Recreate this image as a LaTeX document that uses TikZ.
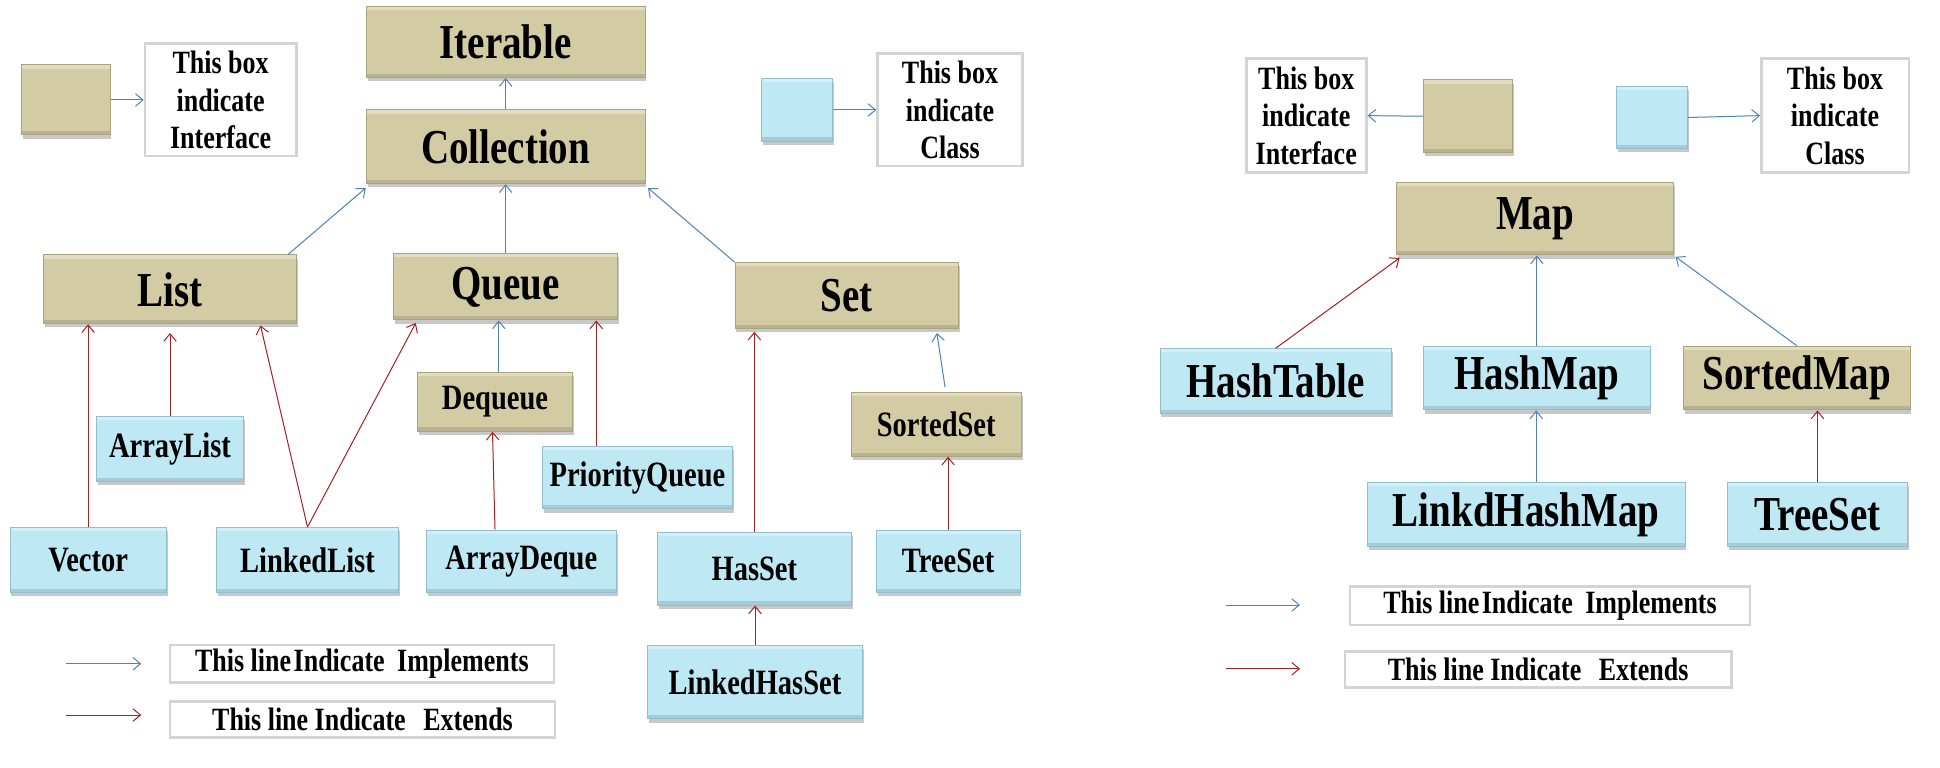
\documentclass[tikz,border=0pt]{standalone}
\usepackage{fontspec}
\setmainfont{Liberation Serif}[FakeStretch=0.8]
\usetikzlibrary{arrows.meta,shadows,calc}
\definecolor{tanfill}{RGB}{210,203,164}
\definecolor{tanedge}{RGB}{170,163,125}
\definecolor{clsfill}{RGB}{190,232,244}
\definecolor{clsedge}{RGB}{145,190,208}
\definecolor{implc}{RGB}{79,129,189}
\definecolor{extc}{RGB}{168,32,32}
\definecolor{legedge}{RGB}{212,212,212}
\tikzset{
  basebox/.style={rectangle, inner sep=0pt, align=center, line width=0.8pt,
    drop shadow={shadow xshift=1pt, shadow yshift=-3pt, opacity=0.3, fill=black!70},
    path picture={
      \fill[white,opacity=0.35] (path picture bounding box.north west) rectangle ([yshift=-3pt]path picture bounding box.north east);
      \fill[black,opacity=0.12] (path picture bounding box.south west) rectangle ([yshift=3pt]path picture bounding box.south east);
    }},
  ifacebox/.style={basebox, fill=tanfill, draw=tanedge},
  classbox/.style={basebox, fill=clsfill, draw=clsedge},
  bigtxt/.style={font=\bfseries\fontsize{39}{42}\selectfont},
  smalltxt/.style={font=\bfseries\fontsize{28.5}{31}\selectfont},
  legbox/.style={rectangle, draw=legedge, line width=2pt, fill=white, inner sep=0pt, align=center,
    font=\bfseries\fontsize{26}{30}\selectfont},
  conn/.style={line width=0.8pt, -{Straight Barb[length=6pt,width=10pt]}},
  impl/.style={conn, draw=implc},
  ext/.style={conn, draw=extc},
}
\begin{document}
\begin{tikzpicture}[x=1pt,y=-1pt]
\fill[white] (0,0) rectangle (1552,614.4);
\useasboundingbox (0,0) rectangle (1552,614.4);

% ---------- left: legend keys
\node[ifacebox, minimum width=71pt, minimum height=56pt] (ikey) at (52.5,80) {};
\node[legbox, minimum width=121pt, minimum height=90pt] (ileg) at (176.5,80) {This box\\indicate\\Interface};
\node[classbox, minimum width=57pt, minimum height=50pt] (ckey) at (637.5,88) {};
\node[legbox, minimum width=116pt, minimum height=90pt] (cleg) at (760,88) {This box\\indicate\\Class};

% ---------- left: hierarchy
\node[ifacebox, bigtxt, minimum width=223pt, minimum height=57pt] (iter) at (404.5,33.5) {Iterable};
\node[ifacebox, bigtxt, minimum width=223pt, minimum height=59pt] (coll) at (404.5,117.5) {Collection};
\node[ifacebox, bigtxt, minimum width=202pt, minimum height=55pt] (list) at (136,231.5) {List};
\node[ifacebox, bigtxt, minimum width=179pt, minimum height=53pt] (queue) at (404.5,229.5) {Queue};
\node[ifacebox, bigtxt, minimum width=179pt, minimum height=53pt] (set) at (677.5,236.5) {Set};
\node[classbox, smalltxt, minimum width=118pt, minimum height=52pt] (alist) at (136,359) {ArrayList};
\node[classbox, smalltxt, minimum width=125pt, minimum height=52pt] (vector) at (70.5,448) {Vector};
\node[classbox, smalltxt, minimum width=146pt, minimum height=52pt] (llist) at (246,448) {LinkedList};
\node[ifacebox, smalltxt, minimum width=124pt, minimum height=47pt] (deq) at (396,321.5) {Dequeue};
\node[classbox, smalltxt, minimum width=152pt, minimum height=50pt] (adeq) at (417,449) {ArrayDeque};
\node[classbox, smalltxt, minimum width=152pt, minimum height=50pt] (pq) at (510,382) {PriorityQueue};
\node[classbox, smalltxt, minimum width=155pt, minimum height=58pt] (hset) at (603.5,455) {HasSet};
\node[ifacebox, smalltxt, minimum width=136pt, minimum height=51pt] (sset) at (749,339.5) {SortedSet};
\node[classbox, smalltxt, minimum width=115pt, minimum height=50pt] (tset) at (758.5,449) {TreeSet};
\node[classbox, smalltxt, minimum width=172pt, minimum height=59pt] (lhset) at (604,545.5) {LinkedHasSet};

% ---------- left: line legend
\node[legbox, minimum width=307pt, minimum height=30pt] (limpl) at (289.5,531) {This line\hspace{2pt}Indicate\hspace{10pt}Implements};
\node[legbox, minimum width=308pt, minimum height=29pt] (lext) at (290,575.5) {This line Indicate\hspace{14pt}Extends};
\coordinate (la1) at (53,531);
\coordinate (lb1) at (113,531);
\coordinate (la2) at (53,572);
\coordinate (lb2) at (113,572);

% ---------- left: connectors
\draw[impl] (ikey.east) -- (ileg.west);
\draw[impl] (ckey.east) -- (cleg.west);
\draw[impl] (coll.north) -- (iter.south);
\draw[impl] ([xshift=-7pt]list.north east) -- ([yshift=-3pt]coll.south west);
\draw[impl] (queue.north) -- (coll.south);
\draw[impl] (set.north west) -- ([xshift=2pt,yshift=-3pt]coll.south east);
\draw[ext] (vector.north) -- (vector.north |- list.south);
\draw[ext] (alist.north) -- ([yshift=-7pt]list.south);
\draw[ext] (llist.north) -- ([xshift=-29pt,yshift=-1pt]list.south east);
\draw[ext] (llist.north) -- ([xshift=18pt,yshift=-2pt]queue.south west);
\draw[impl] ([xshift=3pt]deq.north) -- ([xshift=3pt]deq.north |- queue.south);
\draw[ext] ([xshift=-21pt]adeq.north) -- ([xshift=-2pt]deq.south);
\draw[ext] ([xshift=-33pt]pq.north) -- ([xshift=-33pt]pq.north |- queue.south);
\draw[ext] (hset.north) -- ([yshift=-2pt]hset.north |- set.south);
\draw[impl] ([xshift=7pt,yshift=4pt]sset.north) -- ([xshift=72pt,yshift=-3pt]set.south);
\draw[ext] (tset.north) -- (tset.north |- sset.south);
\draw[ext] (lhset.north) -- (lhset.north |- hset.south);
\draw[impl] (la1) -- (lb1);
\draw[ext] (la2) -- (lb2);

% ---------- right: legend keys
\node[legbox, minimum width=96pt, minimum height=91pt] (rileg) at (1045,92.5) {This box\\indicate\\Interface};
\node[ifacebox, minimum width=71pt, minimum height=58pt] (rikey) at (1174.5,93) {};
\node[classbox, minimum width=57pt, minimum height=50pt] (rckey) at (1321.5,94) {};
\node[legbox, minimum width=118pt, minimum height=91pt] (rcleg) at (1468,92.5) {This box\\indicate\\Class};

% ---------- right: hierarchy
\node[ifacebox, bigtxt, minimum width=222pt, minimum height=58pt] (map) at (1228,175) {Map};
\node[classbox, bigtxt, minimum width=185pt, minimum height=52pt] (htab) at (1020.5,305) {HashTable};
\node[classbox, bigtxt, minimum width=181pt, minimum height=51pt] (hmap) at (1229.5,302.5) {HashMap};
\node[ifacebox, bigtxt, minimum width=181pt, minimum height=51pt] (smap) at (1437.5,302.5) {SortedMap};
\node[classbox, bigtxt, minimum width=254pt, minimum height=51pt] (lhmap) at (1221,411.5) {LinkdHashMap};
\node[classbox, bigtxt, minimum width=144pt, minimum height=51pt] (tset2) at (1454,411.5) {TreeSet};

% ---------- right: line legend
\node[legbox, minimum width=320pt, minimum height=31pt] (rimpl) at (1240,484.5) {This line\hspace{2pt}Indicate\hspace{10pt}Implements};
\node[legbox, minimum width=309pt, minimum height=29pt] (rext) at (1230.5,535.5) {This line Indicate\hspace{14pt}Extends};
\coordinate (ra1) at (981,484);
\coordinate (rb1) at (1040,484);
\coordinate (ra2) at (981,535);
\coordinate (rb2) at (1040,535);

% ---------- right: connectors
\draw[impl] (rikey.west) -- (rileg.east);
\draw[impl] (rckey.east) -- (rcleg.west);
\draw[ext] (htab.north) -- ([xshift=3pt,yshift=-2pt]map.south west);
\draw[impl] (hmap.north) -- (hmap.north |- map.south);
\draw[impl] (smap.north) -- ([xshift=1pt,yshift=-1pt]map.south east);
\draw[impl] ([xshift=8pt]lhmap.north) -- ([xshift=8pt]lhmap.north |- hmap.south);
\draw[ext] (tset2.north) -- (tset2.north |- smap.south);
\draw[impl] (ra1) -- (rb1);
\draw[ext] (ra2) -- (rb2);
\end{tikzpicture}
\end{document}
